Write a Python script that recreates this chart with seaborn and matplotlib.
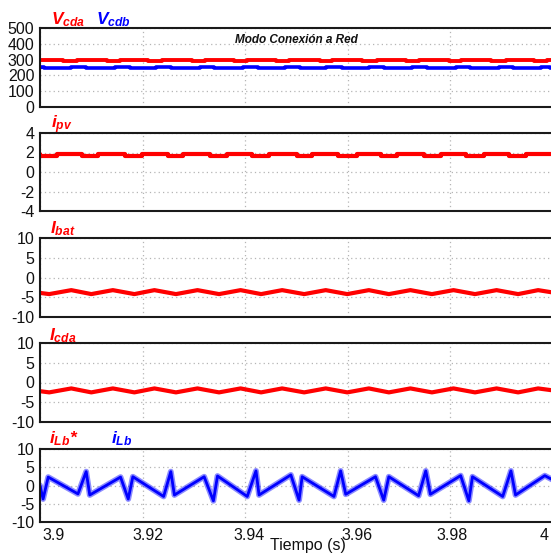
import numpy as np
import pandas as pd
import matplotlib
matplotlib.use("Agg")
import matplotlib.pyplot as plt
import matplotlib.transforms as mtransforms
import seaborn as sns

# ---------------- data ----------------
T_START, T_END = 3.9, 4.0
x_ticks = [3.9, 3.92, 3.94, 3.96, 3.98, 4.0]
x_tick_labels = ["3.9", "3.92", "3.94", "3.96", "3.98", "4"]

# Panel 1: DC-link voltages (step-like ripple)
vcda_hi, vcda_lo = 298.0, 291.0
vcda_dip_start = [3.9045, 3.9130, 3.9210, 3.9296, 3.9379, 3.9461, 3.9545,
                  3.9628, 3.9714, 3.9798, 3.9879, 3.9963]
vcda_dip_end = [3.9072, 3.9156, 3.9237, 3.9321, 3.9403, 3.9486, 3.9570,
                3.9656, 3.9739, 3.9821, 3.9909, 3.9988]
vcdb_lo, vcdb_hi = 246.0, 252.0
vcdb_up_start = [3.9000, 3.9060, 3.9146, 3.9226, 3.9311, 3.9395, 3.9477,
                 3.9558, 3.9642, 3.9726, 3.9811, 3.9895, 3.9977]
vcdb_up_end = [3.9008, 3.9089, 3.9175, 3.9255, 3.9340, 3.9424, 3.9506,
               3.9588, 3.9671, 3.9755, 3.9839, 3.9922, 3.9994]

# Panel 2: PV current
ipv_hi, ipv_lo = 1.83, 1.62
ipv_dip_start = [3.9000, 3.9082, 3.9165, 3.9249, 3.9331, 3.9414, 3.9500,
                 3.9580, 3.9665, 3.9749, 3.9831, 3.9914]
ipv_dip_end = [3.9033, 3.9113, 3.9198, 3.9278, 3.9364, 3.9447, 3.9531,
               3.9617, 3.9696, 3.9782, 3.9866, 3.9947]

# Panels 3-4: 120 Hz ripple (extremes)
ripple_t = [3.9000, 3.9018, 3.9061, 3.9100, 3.9142, 3.9184, 3.9223, 3.9265,
            3.9307, 3.9349, 3.9391, 3.9431, 3.9472, 3.9515, 3.9557, 3.9599,
            3.9641, 3.9680, 3.9722, 3.9764, 3.9806, 3.9848, 3.9890, 3.9932,
            3.9971, 4.0000]
ibat = [-3.9, -4.2, -3.2, -4.2, -3.2, -4.2, -3.2, -4.2, -3.2, -4.2, -3.2,
        -4.2, -3.2, -4.2, -3.2, -4.2, -3.2, -4.2, -3.2, -4.2, -3.2, -4.2,
        -3.2, -4.2, -3.2, -3.8]
icda = [-2.2, -2.5, -1.5, -2.5, -1.5, -2.5, -1.5, -2.5, -1.5, -2.5, -1.5,
        -2.5, -1.5, -2.5, -1.5, -2.5, -1.5, -2.5, -1.5, -2.5, -1.5, -2.5,
        -1.5, -2.5, -1.5, -2.0]

# Panel 5: inductor current (reference and measured overlap)
ilb_t = [3.9000, 3.9006, 3.9016, 3.9074, 3.9090, 3.9097, 3.9157, 3.9172,
         3.9181, 3.9241, 3.9255, 3.9262, 3.9320, 3.9338, 3.9346, 3.9404,
         3.9421, 3.9427, 3.9489, 3.9505, 3.9511, 3.9573, 3.9586, 3.9596,
         3.9654, 3.9670, 3.9680, 3.9738, 3.9752, 3.9761, 3.9820, 3.9836,
         3.9843, 3.9902, 3.9918, 3.9927, 3.9984, 4.0000]
ilb = [0.0, -3.7, 2.3, -2.3, 3.8, -2.6, 2.3, -3.7, 2.4, -3.0, 3.8, -2.6,
       2.4, -4.2, 2.6, -3.0, 4.0, -2.6, 2.9, -4.0, 2.4, -3.0, 4.0, -2.4,
       2.4, -4.0, 2.4, -2.8, 4.0, -2.4, 2.7, -4.2, 2.4, -3.0, 4.0, -2.6,
       2.7, 1.5]
ilb_ref = ilb

# ---------------- styling ----------------
sns.set_style("white")
plt.rcParams["font.family"] = ["Liberation Sans", "DejaVu Sans"]
plt.rcParams["mathtext.fontset"] = "custom"
plt.rcParams["mathtext.it"] = "Liberation Sans:bold:italic"
plt.rcParams["mathtext.rm"] = "Liberation Sans:bold:italic"
plt.rcParams["mathtext.bf"] = "Liberation Sans:bold:italic"

RED = "#ff0000"
BLUE = "#0000ff"
W, H = 551, 554
fig = plt.figure(figsize=(W / 100, H / 100), dpi=100)


def steps(starts, ends, base, alt):
    t = [T_START]
    v = [base]
    for s, e in zip(starts, ends):
        t += [s, e]
        v += [alt, base]
    t.append(T_END)
    v.append(base)
    return pd.DataFrame({"t": t, "v": v})


def make_ax(top, bottom, yticks, ylim):
    ax = fig.add_axes([40 / W, (H - bottom) / H, 513 / W, (bottom - top) / H])
    ax.set_xlim(T_START, T_END)
    ax.set_ylim(*ylim)
    ax.set_yticks(yticks)
    ax.set_yticklabels([f"{y:g}" for y in yticks])
    ax.set_xticks(x_ticks)
    ax.set_xticklabels([])
    ax.grid(True, color="#b5b5b5", linestyle=(0, (1, 2.5)), linewidth=0.9)
    ax.tick_params(length=0, pad=4, labelsize=11.5, colors="#111111")
    for s in ["top", "bottom", "left"]:
        ax.spines[s].set_color("#1a1a1a")
        ax.spines[s].set_linewidth(1.5)
    ax.spines["right"].set_visible(False)
    ax.set_xlabel("")
    ax.set_ylabel("")
    return ax


def label(x, y, s, color, size=12.5):
    fig.text(x / W, 1 - y / H, s, color=color, fontsize=size,
             fontweight="bold", style="italic", va="baseline", ha="left")


kw = dict(estimator=None, sort=False, legend=False)

# Panel 1
ax1 = make_ax(28, 107, [0, 100, 200, 300, 400, 500], (0, 500))
sns.lineplot(data=steps(vcdb_up_start, vcdb_up_end, vcdb_lo, vcdb_hi), x="t", y="v",
             ax=ax1, color=BLUE, lw=2.6, drawstyle="steps-post", **kw)
sns.lineplot(data=steps(vcda_dip_start, vcda_dip_end, vcda_hi, vcda_lo), x="t", y="v",
             ax=ax1, color=RED, lw=2.8, drawstyle="steps-post", **kw)
ax1.set_xlabel(""); ax1.set_ylabel("")
fig.text(235 / W, 1 - 43 / H, "Modo Conexión a Red", fontsize=8.5,
         fontweight="bold", style="italic", color="#111111", va="baseline")

# Panel 2
ax2 = make_ax(133, 211, [-4, -2, 0, 2, 4], (-4, 4))
sns.lineplot(data=steps(ipv_dip_start, ipv_dip_end, ipv_hi, ipv_lo), x="t", y="v",
             ax=ax2, color=RED, lw=3.0, drawstyle="steps-post", **kw)
ax2.set_xlabel(""); ax2.set_ylabel("")

# Panel 3
ax3 = make_ax(238, 317, [-10, -5, 0, 5, 10], (-10, 10))
sns.lineplot(x=ripple_t, y=ibat, ax=ax3, color=RED, lw=3.0, **kw)

# Panel 4
ax4 = make_ax(343, 422, [-10, -5, 0, 5, 10], (-10, 10))
sns.lineplot(x=ripple_t, y=icda, ax=ax4, color=RED, lw=3.0, **kw)

# Panel 5
ax5 = make_ax(449, 522, [-10, -5, 0, 5, 10], (-10, 10))
sns.lineplot(x=ilb_t, y=ilb_ref, ax=ax5, color=RED, lw=1.0, **kw)
sns.lineplot(x=ilb_t, y=ilb, ax=ax5, color=BLUE, lw=4.2, alpha=0.45, **kw)
sns.lineplot(x=ilb_t, y=ilb, ax=ax5, color=BLUE, lw=2.0, **kw)
ax5.set_xticklabels(x_tick_labels)
ax5.tick_params(axis="x", pad=4)
offsets = [14, 5, 4, 9, 2, -9]
for lab, dx in zip(ax5.get_xticklabels(), offsets):
    lab.set_transform(lab.get_transform() +
                      mtransforms.ScaledTranslation(dx / 100, 0, fig.dpi_scale_trans))
fig.text(270 / W, 1 - 550 / H, "Tiempo (s)", fontsize=11.5, color="#111111",
         va="baseline", ha="left")

# Panel labels
label(51, 24, r"$V_{cda}$", RED)
label(96, 24, r"$V_{cdb}$", BLUE)
label(51, 128, r"$i_{pv}$", RED)
label(50, 233, r"$I_{bat}$", RED)
label(49, 340, r"$I_{cda}$", RED)
label(49, 443, r"$i_{Lb}$*", RED)
label(111, 443, r"$i_{Lb}$", BLUE)

fig.savefig("out.png", dpi=100)
